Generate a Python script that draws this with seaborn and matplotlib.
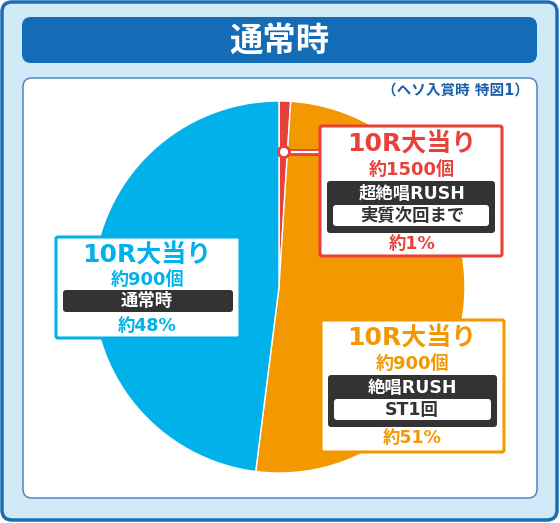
# -*- coding:utf-8 -*-

import matplotlib
matplotlib.use("Agg")
import matplotlib.pyplot as plt
from matplotlib.patches import FancyBboxPatch, Circle
import seaborn as sns

# Data
title = "通常時"
note = "（ヘソ入賞時 特図1）"
shares = [1, 51, 48]
hits = ["10R大当り", "10R大当り", "10R大当り"]
payouts = ["約1500個", "約900個", "約900個"]
modes = ["超絶唱RUSH", "絶唱RUSH", "通常時"]
subs = ["実質次回まで", "ST1回", ""]
share_labels = ["約1%", "約51%", "約48%"]

sns.set_theme(style="white")
plt.rcParams['font.family'] = ['DejaVu Sans', 'Noto Sans CJK JP']

colors = ["#e8413b", "#f39800", "#00b2e9"]
dark = "#333333"

fig = plt.figure(figsize=(5.6, 5.23), dpi=100)
ax = fig.add_axes([0, 0, 1, 1])


def rbox(x, y, w, h, fc, ec, lw=1.0, r=6, z=1):
    ax.add_patch(FancyBboxPatch((x, y), w, h,
                                boxstyle="round,pad=0,rounding_size=%s" % r,
                                fc=fc, ec=ec, lw=lw, zorder=z))


def label(x, y, s, color, size, z):
    ax.text(x, y, s, color=color, fontsize=size, fontweight="bold",
            ha="center", va="center", zorder=z)


# Frame, title bar, panel
rbox(2, 2, 555, 518, "#d2eaf8", "#1b6cb4", lw=2.5, r=10, z=0)
rbox(22, 17, 515, 46, "#136cb5", "none", r=9, z=1)
label(279.5, 41, title, "white", 24, 2)
rbox(23, 78, 514, 420, "white", "#3d7cc0", lw=1.0, r=9, z=1)
ax.text(529, 90, note, color="#1a5fa8", fontsize=10.5, fontweight="bold",
        ha="right", va="center", zorder=2)

# Pie
ax.pie(shares, colors=colors, startangle=-90, counterclock=True,
       center=(279, 287), radius=186,
       wedgeprops=dict(edgecolor="white", linewidth=1.0, zorder=3))

# Connector for the 1% slice
ax.plot([284, 321], [152, 152], color=colors[0], lw=5, zorder=4,
        solid_capstyle="butt")
ax.plot([289, 321], [152, 152], color="white", lw=1.6, zorder=4,
        solid_capstyle="butt")
ax.add_patch(Circle((284, 152), 5.5, fc="white", ec=colors[0], lw=2, zorder=5))

# Label boxes: (left, top, width, height, text center x)
boxes = [(320, 126, 182, 130, 412),
         (321, 320, 183, 132, 412),
         (56, 237, 184, 101, 147)]

for i, (bx, by, bw, bh, cx) in enumerate(boxes):
    c = colors[i]
    rbox(bx, by, bw, bh, "white", c, lw=2.2, r=2, z=6)
    label(cx, by + 18, hits[i], c, 18, 7)
    if subs[i]:
        label(cx, by + 44, payouts[i], c, 13, 7)
        rbox(bx + 7, by + 55, bw - 14, 52, dark, "none", r=3, z=7)
        label(cx, by + 68, modes[i], "white", 12.5, 8)
        rbox(bx + 13, by + 79, bw - 26, 21, "white", "none", r=3, z=8)
        label(cx, by + 90, subs[i], dark, 12.5, 9)
        label(cx, by + 118, share_labels[i], c, 12.5, 7)
    else:
        label(cx, by + 43, payouts[i], c, 13, 7)
        rbox(bx + 7, by + 53, bw - 14, 22, dark, "none", r=3, z=7)
        label(cx, by + 64, modes[i], "white", 12.5, 8)
        label(cx, by + 89, share_labels[i], c, 12.5, 7)

ax.set_xlim(0, 560)
ax.set_ylim(523, 0)
ax.set_aspect("auto")
ax.axis("off")

plt.savefig("out.png", dpi=100)
